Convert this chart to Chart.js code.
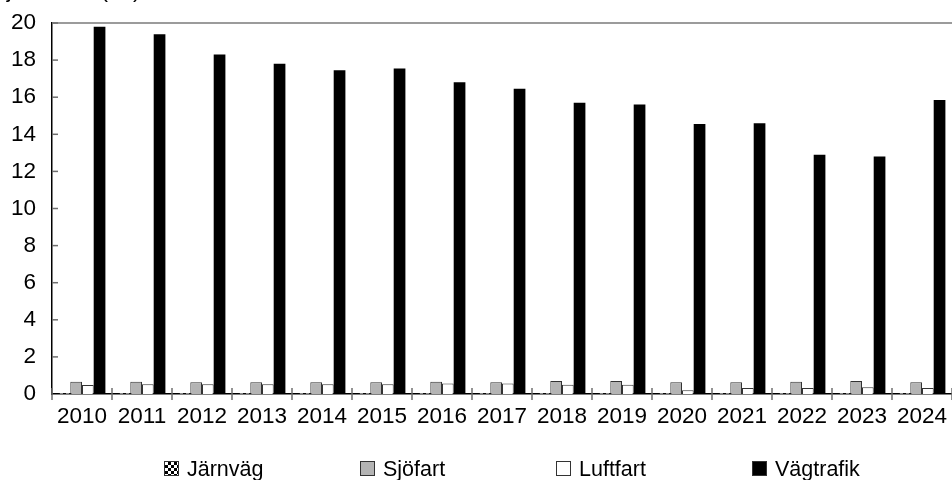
<!DOCTYPE html>
<html>
<head>
<meta charset="utf-8">
<script src="https://cdn.jsdelivr.net/npm/chart.js@4/dist/chart.umd.min.js"></script>
<style>
  html, body { margin: 0; padding: 0; background: #ffffff; }
  #wrap { width: 952px; height: 480px; }
</style>
</head>
<body>
<div id="wrap"><canvas id="c" width="952" height="480"></canvas></div>
<script>
// Utsläpp per trafikslag, miljoner ton
const years = ['2010','2011','2012','2013','2014','2015','2016','2017','2018','2019','2020','2021','2022','2023','2024'];
const jarnvag   = [0.06,0.06,0.06,0.06,0.06,0.06,0.06,0.06,0.06,0.06,0.06,0.06,0.06,0.06,0.06];
const sjofart   = [0.66,0.66,0.63,0.63,0.63,0.63,0.66,0.63,0.70,0.70,0.63,0.63,0.66,0.70,0.63];
const luftfart  = [0.49,0.52,0.52,0.52,0.52,0.52,0.57,0.57,0.50,0.50,0.20,0.32,0.32,0.36,0.32];
const vagtrafik = [19.8,19.4,18.3,17.8,17.45,17.55,16.8,16.45,15.7,15.6,14.55,14.6,12.9,12.8,15.85];
const yTicks = [0,2,4,6,8,10,12,14,16,18,20];
const unitLabel = 'Miljoner ton (Mt)';

const FONT = "'Liberation Sans', Arial, sans-serif";
const FS = 22.5;      // axis labels
const LEG_FS = 21.5;  // legend labels

// small checkered fill used for the rail series
function checker() {
  const p = document.createElement('canvas');
  p.width = 6; p.height = 6;
  const g = p.getContext('2d');
  g.fillStyle = '#ffffff'; g.fillRect(0,0,6,6);
  g.fillStyle = '#000000';
  g.fillRect(0,0,3,3); g.fillRect(3,3,3,3);
  return document.getElementById('c').getContext('2d').createPattern(p, 'repeat');
}
const railFill = checker();

const datasets = [
  { label: 'Järnväg',   data: jarnvag,   backgroundColor: railFill,  borderColor: '#222222', borderWidth: 1 },
  { label: 'Sjöfart',   data: sjofart,   backgroundColor: '#b4b4b4', borderColor: '#333333', borderWidth: 1 },
  { label: 'Luftfart',  data: luftfart,  backgroundColor: '#ffffff', borderColor: '#333333', borderWidth: 1 },
  { label: 'Vägtrafik', data: vagtrafik, backgroundColor: '#000000', borderColor: '#000000', borderWidth: 0 }
];

// frame line, inward value ticks, category separators, legend and unit text
const decorations = {
  id: 'decorations',
  afterDraw(chart) {
    const ctx = chart.ctx;
    const { left, right, top, bottom } = chart.chartArea;
    const x = chart.scales.x, y = chart.scales.y;
    ctx.save();

    ctx.strokeStyle = '#7a7a7a';
    ctx.lineWidth = 1.5;
    ctx.beginPath(); ctx.moveTo(left, top); ctx.lineTo(right, top); ctx.stroke();

    ctx.strokeStyle = '#6e6e6e';
    ctx.lineWidth = 1.5;
    y.ticks.forEach(t => {
      if (t.value === 0) return;
      const py = y.getPixelForValue(t.value);
      ctx.beginPath(); ctx.moveTo(left, py); ctx.lineTo(left + 6, py); ctx.stroke();
    });

    const n = years.length;
    const cw = (x.right - x.left) / n;
    for (let i = 0; i <= n; i++) {
      const px = x.left + i * cw;
      ctx.beginPath(); ctx.moveTo(px, bottom - 6); ctx.lineTo(px, bottom + 6); ctx.stroke();
    }

    // legend
    ctx.font = LEG_FS + 'px ' + FONT;
    ctx.textBaseline = 'middle';
    ctx.textAlign = 'left';
    chart.data.datasets.forEach((ds, i) => {
      const bx = 164 + i * 196, by = 461, s = 15;
      ctx.fillStyle = ds.backgroundColor;
      ctx.fillRect(bx, by, s, s);
      ctx.strokeStyle = '#333333';
      ctx.lineWidth = 1;
      ctx.strokeRect(bx + 0.5, by + 0.5, s - 1, s - 1);
      ctx.fillStyle = '#000000';
      ctx.fillText(ds.label, bx + 23, by + 9);
    });

    // unit text at the top edge
    ctx.font = FS + 'px ' + FONT;
    ctx.textBaseline = 'alphabetic';
    ctx.fillStyle = '#000000';
    ctx.fillText(unitLabel, -22, -3);
    ctx.restore();
  }
};

new Chart(document.getElementById('c'), {
  type: 'bar',
  data: { labels: years, datasets },
  options: {
    responsive: false,
    animation: false,
    devicePixelRatio: 1,
    layout: { padding: { top: 23, right: 0, bottom: 0, left: 0 } },
    plugins: { legend: { display: false }, tooltip: { enabled: false } },
    datasets: { bar: { categoryPercentage: 0.78, barPercentage: 1.0 } },
    scales: {
      x: {
        grid: { display: false },
        border: { display: true, color: '#000000', width: 1.5 },
        ticks: { color: '#000000', font: { family: FONT, size: FS }, padding: 1, maxRotation: 0, autoSkip: false },
        afterFit(s) { s.height = 86; }
      },
      y: {
        min: 0, max: 20,
        afterBuildTicks(s) { s.ticks = yTicks.map(v => ({ value: v })); },
        grid: { display: false },
        border: { display: true, color: '#000000', width: 1.5 },
        ticks: { color: '#000000', font: { family: FONT, size: FS }, padding: 8 },
        afterFit(s) { s.width = 52; }
      }
    }
  },
  plugins: [decorations]
});
</script>
</body>
</html>
